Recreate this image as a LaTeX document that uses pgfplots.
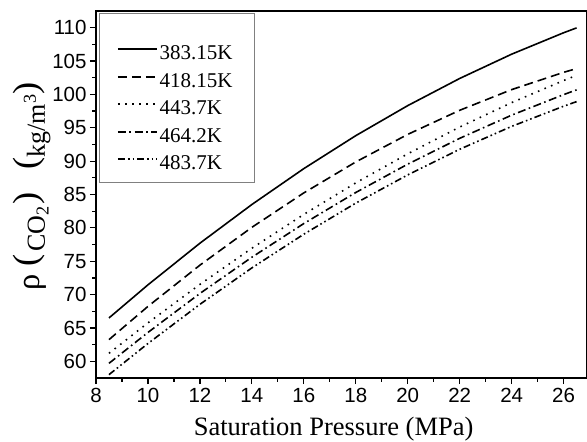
\documentclass[border=0pt]{standalone}
\usepackage{graphicx}
\usepackage{pgfplots}
\pgfplotsset{compat=1.18}
\usepackage{fontspec}
\setmainfont{Liberation Serif}
\newfontfamily\ticksans{Liberation Sans}
\newcommand\lp{\raisebox{0.3em}{\scalebox{1.4}[1.35]{(}}}
\newcommand\rp{\raisebox{0.3em}{\scalebox{1.4}[1.35]{)}}}
\begin{document}
\begin{tikzpicture}
\begin{axis}[
  width=491pt, height=367pt, scale only axis,
  xmin=8, xmax=26.9, ymin=57.5, ymax=112.5,
  xtick={8,10,...,26}, ytick={60,65,...,110},
  minor x tick num=1, minor y tick num=1,
  xtick pos=left, ytick pos=left, tick align=outside,
  major tick length=6pt, minor tick length=3.5pt,
  every tick/.style={line width=1.2pt, black},
  axis line style={line width=1.5pt},
  /pgf/number format/assume math mode=true,
  tick label style={font=\ticksans\fontsize{20.5}{23}\selectfont},
  xticklabel style={yshift=-1pt},
  xlabel={Saturation Pressure (MPa)},
  ylabel={\raisebox{0.22em}{\scalebox{1.25}{ρ}}\hspace{0.3em}\lp\hspace{0.1em}CO\textsubscript{2}\hspace{0.05em}\rp\hspace{0.9em}\lp kg/m\textsuperscript{3}\rp},
  xlabel style={font=\fontsize{26.5}{30}\selectfont, at={(rel axis cs:0.484,-0.158)}, anchor=base},
  ylabel style={font=\fontsize{26}{28}\selectfont, at={(rel axis cs:-0.1039,0.522)}, anchor=base},
  legend style={at={(rel axis cs:0.008,0.914)}, anchor=north west, draw=none, fill=none,
    font=\fontsize{21}{24}\selectfont, inner xsep=17pt, inner ysep=0pt, row sep=4.5pt,
    nodes={inner sep=2pt, text height=15pt, text depth=4pt}},
  legend cell align=left,
  legend image code/.code={\draw[#1] (0pt,5pt) -- (39pt,5pt);},
  every axis plot/.append style={line width=1.6pt, black},
]
\addplot[solid] coordinates {(8.5,66.5)(10,71.46)(12,77.70)(14,83.5)(16,88.88)(18,93.82)(20,98.32)(22,102.39)(24,106.03)(26,109.24)(26.5,109.97)};
\addlegendentry{383.15K}
\addplot[dash pattern=on 9pt off 5pt] coordinates {(8.5,63.25)(10,68.23)(12,74.41)(14,80.08)(16,85.24)(18,89.88)(20,94.01)(22,97.62)(24,100.72)(26,103.31)(26.5,103.87)};
\addlegendentry{418.15K}
\addplot[dash pattern=on 1.6pt off 5.5pt] coordinates {(8.5,61.2)(10,65.76)(12,71.53)(14,76.95)(16,82.02)(18,86.74)(20,91.10)(22,95.11)(24,98.77)(26,102.08)(26.5,102.85)};
\addlegendentry{443.7K}
\addplot[dash pattern=on 8pt off 3.5pt on 1.6pt off 3.5pt] coordinates {(8.5,59.7)(10,64.33)(12,70.17)(14,75.60)(16,80.65)(18,85.30)(20,89.55)(22,93.42)(24,96.89)(26,99.97)(26.5,100.68)};
\addlegendentry{464.2K}
\addplot[dash pattern=on 7pt off 3pt on 1.6pt off 3pt on 1.6pt off 3pt] coordinates {(8.5,58.0)(10,62.67)(12,68.54)(14,74.0)(16,79.05)(18,83.71)(20,87.94)(22,91.78)(24,95.21)(26,98.23)(26.5,98.92)};
\addlegendentry{483.7K}
\draw[gray, line width=1pt] (axis cs:8.154,112.2) rectangle (axis cs:14.09,86.8);
\coordinate (A) at (rel axis cs:0,0);
\coordinate (B) at (rel axis cs:1,1);
\end{axis}
\pgfresetboundingbox
\path ([xshift=-96pt,yshift=-64pt]A) rectangle ([yshift=11pt]B);
\end{tikzpicture}
\end{document}
